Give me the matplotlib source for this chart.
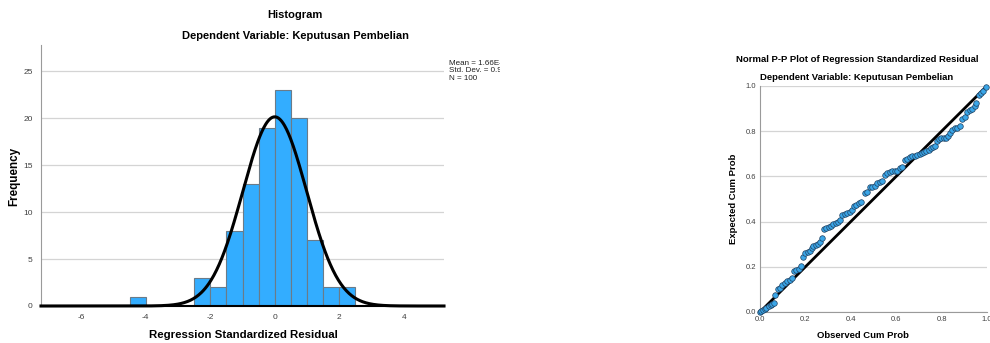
import numpy as np
import matplotlib
matplotlib.use("Agg")
import matplotlib.pyplot as plt
from matplotlib.transforms import Bbox

plt.rcParams['font.family'] = ['Liberation Sans', 'DejaVu Sans']
plt.rcParams['axes.unicode_minus'] = False

# ---- Histogram data ----
bin_left = [-4.5, -2.5, -2.0, -1.5, -1.0, -0.5, 0.0, 0.5, 1.0, 1.5, 2.0]
bin_counts = [1, 3, 2, 8, 13, 19, 23, 20, 7, 2, 2]
bin_width = 0.5
mean_val = 1.66e-15
std_val = 0.990
n_val = 100
hist_xticks = [-6, -4, -2, 0, 2, 4]
hist_yticks = [0, 5, 10, 15, 20, 25]

# ---- P-P plot data ----
observed = [0.000, 0.005, 0.013, 0.020, 0.028, 0.038, 0.047, 0.054, 0.060, 0.068,
            0.080, 0.090, 0.098, 0.110, 0.120, 0.130, 0.140, 0.150, 0.160, 0.170,
            0.180, 0.190, 0.200, 0.210, 0.220, 0.230, 0.235, 0.245, 0.255, 0.263,
            0.275, 0.282, 0.292, 0.302, 0.311, 0.322, 0.333, 0.343, 0.351, 0.363,
            0.373, 0.383, 0.395, 0.405, 0.413, 0.424, 0.434, 0.446, 0.461, 0.471,
            0.483, 0.495, 0.505, 0.515, 0.527, 0.539, 0.552, 0.561, 0.571, 0.583,
            0.593, 0.603, 0.615, 0.625, 0.640, 0.649, 0.659, 0.669, 0.681, 0.691,
            0.703, 0.713, 0.722, 0.733, 0.743, 0.752, 0.762, 0.769, 0.780, 0.789,
            0.799, 0.809, 0.821, 0.830, 0.839, 0.848, 0.858, 0.869, 0.879, 0.890,
            0.901, 0.912, 0.924, 0.935, 0.946, 0.953, 0.965, 0.975, 0.982, 0.994]
expected = [0.000, 0.003, 0.007, 0.013, 0.018, 0.025, 0.032, 0.035, 0.040, 0.076,
            0.100, 0.105, 0.120, 0.127, 0.135, 0.143, 0.150, 0.180, 0.187, 0.190,
            0.205, 0.243, 0.260, 0.265, 0.268, 0.283, 0.293, 0.297, 0.302, 0.308,
            0.327, 0.366, 0.370, 0.377, 0.381, 0.388, 0.395, 0.399, 0.407, 0.429,
            0.432, 0.437, 0.444, 0.451, 0.469, 0.474, 0.481, 0.488, 0.528, 0.532,
            0.554, 0.554, 0.557, 0.572, 0.576, 0.579, 0.608, 0.613, 0.618, 0.622,
            0.624, 0.625, 0.635, 0.640, 0.672, 0.679, 0.687, 0.691, 0.691, 0.694,
            0.699, 0.702, 0.706, 0.713, 0.716, 0.724, 0.732, 0.735, 0.756, 0.765,
            0.772, 0.772, 0.772, 0.779, 0.793, 0.804, 0.812, 0.816, 0.822, 0.856,
            0.863, 0.885, 0.893, 0.900, 0.910, 0.926, 0.958, 0.968, 0.980, 0.995]
pp_ticks = [0.0, 0.2, 0.4, 0.6, 0.8, 1.0]

fig = plt.figure(figsize=(9.9, 3.43), dpi=100)

grid_c = '#d4d4d4'
tick_c = '#404040'

# ---- Histogram ----
ax = fig.add_axes([41/990, 1-306/343, (444-41)/990, (306-45)/343])
ax.bar(bin_left, bin_counts, width=bin_width, align='edge',
       color='#33adff', edgecolor='#6b7b88', linewidth=0.8, zorder=2)
xs = np.linspace(-7.25, 5.25, 600)
ys = n_val * bin_width * np.exp(-0.5 * ((xs - mean_val) / std_val) ** 2) / (std_val * np.sqrt(2 * np.pi))
ax.plot(xs, ys, color='black', lw=2.2, zorder=3, clip_on=False)
ax.set_xlim(-7.25, 5.25)
ax.set_ylim(0, 27.8)
ax.set_xticks(hist_xticks)
ax.set_yticks(hist_yticks)
ax.tick_params(length=0, labelsize=6, colors=tick_c, pad=6)
ax.yaxis.grid(True, color=grid_c, lw=0.9, zorder=0)
ax.set_axisbelow(True)
for s in ['top', 'right']:
    ax.spines[s].set_visible(False)
ax.spines['left'].set_color('#9a9a9a')
ax.spines['bottom'].set_color('black')
ax.spines['bottom'].set_linewidth(1.5)

fig.text(243/990, 1-335/343, 'Regression Standardized Residual', ha='center', va='center',
         fontsize=8.2, fontweight='bold')
fig.text(14/990, 1-176/343, 'Frequency', ha='center', va='center', rotation=90,
         fontsize=8.4, fontweight='bold')

fig.text(295/990, 1-15/343, 'Histogram', ha='center', va='center', fontsize=8, fontweight='bold')
fig.text(295/990, 1-36/343, 'Dependent Variable: Keputusan Pembelian', ha='center', va='center',
         fontsize=8, fontweight='bold')
stats_txt = fig.text(449/990, 1-60/343,
                     'Mean = 1.66E-15\nStd. Dev. = 0.990\nN = 100',
                     ha='left', va='top', fontsize=5.8, linespacing=1.05, color='#202020')
stats_txt.set_clip_box(Bbox.from_extents(0, 0, 500, 343))
stats_txt.set_clip_on(True)

# ---- P-P plot ----
ax2 = fig.add_axes([760/990, 1-312/343, (987-760)/990, (312-86)/343])
ax2.plot([0, 1], [0, 1], color='black', lw=2, zorder=3)
ax2.scatter(observed, expected, s=16, facecolor='#3aa6e8', edgecolor='#1f3f5f',
            linewidth=0.5, zorder=4, clip_on=False)
ax2.set_xlim(0, 1)
ax2.set_ylim(0, 1)
ax2.set_xticks(pp_ticks)
ax2.set_yticks(pp_ticks)
ax2.set_xticklabels(['0.0', '0.2', '0.4', '0.6', '0.8', '1.0'])
ax2.set_yticklabels(['0.0', '0.2', '0.4', '0.6', '0.8', '1.0'])
ax2.tick_params(length=0, labelsize=5.5, colors=tick_c, pad=3)
ax2.yaxis.grid(True, color=grid_c, lw=0.9, zorder=0)
ax2.set_axisbelow(True)
for s in ['top', 'right']:
    ax2.spines[s].set_visible(False)
ax2.spines['left'].set_color('#9a9a9a')
ax2.spines['bottom'].set_color('#9a9a9a')

fig.text(863/990, 1-336/343, 'Observed Cum Prob', ha='center', va='center',
         fontsize=6.8, fontweight='bold')
fig.text(734/990, 1-199/343, 'Expected Cum Prob', ha='center', va='center', rotation=90,
         fontsize=6.8, fontweight='bold')

fig.text(857/990, 1-59/343, 'Normal P-P Plot of Regression Standardized Residual',
         ha='center', va='center', fontsize=6.8, fontweight='bold')
fig.text(857/990, 1-77/343, 'Dependent Variable: Keputusan Pembelian',
         ha='center', va='center', fontsize=6.8, fontweight='bold')

fig.savefig('out.png', dpi=100)
